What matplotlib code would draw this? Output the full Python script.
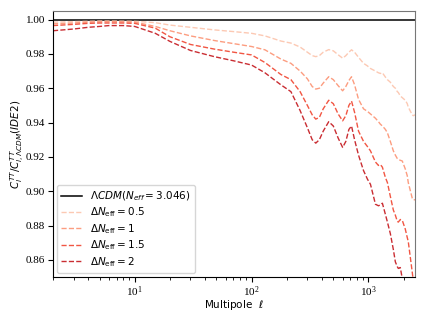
import numpy as np
import matplotlib
matplotlib.use('Agg')
import matplotlib.pyplot as plt

ell = [2, 3, 4, 5, 6, 8, 10, 15, 20, 30, 48, 70, 100, 130, 178, 217, 260, 300,
       330, 354, 380, 410, 457, 500, 550, 601, 640, 680, 716, 760, 822, 907,
       980, 1040, 1147, 1217, 1265, 1315, 1395, 1452, 1538, 1632, 1698, 1765,
       1800, 1872, 1946, 2063, 2146, 2190, 2366, 2415, 2500]

r05 = [0.9985, 0.9988, 0.9990, 0.9992, 0.9992, 0.9991, 0.9990, 0.9982, 0.9968,
       0.9955, 0.9940, 0.9930, 0.9920, 0.9905, 0.9875, 0.9863, 0.9840, 0.9810,
       0.9790, 0.9784, 0.9790, 0.9810, 0.9825, 0.9818, 0.9795, 0.9775, 0.9790,
       0.9810, 0.9824, 0.9810, 0.9780, 0.9745, 0.9730, 0.9715, 0.9700, 0.9690,
       0.9686, 0.9690, 0.9665, 0.9650, 0.9635, 0.9610, 0.9600, 0.9580, 0.9575,
       0.9555, 0.9545, 0.9530, 0.9510, 0.9490, 0.9445, 0.9440, 0.9445]

r1 = [0.9975, 0.9980, 0.9985, 0.9987, 0.9988, 0.9987, 0.9985, 0.9960, 0.9935,
      0.9905, 0.9878, 0.9860, 0.9843, 0.9824, 0.9770, 0.9745, 0.9700, 0.9655,
      0.9610, 0.9595, 0.9600, 0.9630, 0.9667, 0.9650, 0.9615, 0.9585, 0.9610,
      0.9645, 0.9667, 0.9620, 0.9535, 0.9480, 0.9465, 0.9450, 0.9425, 0.9405,
      0.9390, 0.9380, 0.9360, 0.9340, 0.9290, 0.9235, 0.9210, 0.9190, 0.9185,
      0.9180, 0.9176, 0.9130, 0.9090, 0.9050, 0.8960, 0.8950, 0.8950]

r15 = [0.9965, 0.9972, 0.9978, 0.9980, 0.9980, 0.9980, 0.9978, 0.9950, 0.9900,
       0.9855, 0.9828, 0.9810, 0.9794, 0.9750, 0.9680, 0.9650, 0.9580, 0.9500,
       0.9445, 0.9420, 0.9430, 0.9480, 0.9530, 0.9510, 0.9450, 0.9410, 0.9440,
       0.9500, 0.9525, 0.9460, 0.9350, 0.9290, 0.9260, 0.9235, 0.9170, 0.9150,
       0.9155, 0.9140, 0.9080, 0.9050, 0.8970, 0.8890, 0.8860, 0.8824, 0.8820,
       0.8835, 0.8830, 0.8780, 0.8730, 0.8706, 0.8530, 0.8480, 0.8450]

r2 = [0.9935, 0.9945, 0.9955, 0.9960, 0.9965, 0.9965, 0.9960, 0.9920, 0.9873,
      0.9820, 0.9784, 0.9760, 0.9735, 0.9690, 0.9620, 0.9580, 0.9470, 0.9370,
      0.9300, 0.9280, 0.9300, 0.9350, 0.9405, 0.9380, 0.9310, 0.9255, 0.9290,
      0.9360, 0.9380, 0.9300, 0.9210, 0.9120, 0.9070, 0.9040, 0.8924, 0.8915,
      0.8920, 0.8930, 0.8865, 0.8820, 0.8753, 0.8660, 0.8588, 0.8560, 0.8550,
      0.8555, 0.8490, 0.8450, 0.8400, 0.8380, 0.8320, 0.8300, 0.8280]

dneff = ['0.5', '1', '1.5', '2']
curves = [r05, r1, r15, r2]
colors = ['#fcc3ab', '#fc9272', '#f0442f', '#c4161c']

fig = plt.figure(figsize=(4.26, 3.2), dpi=100)
ax = fig.add_axes([53/426, 43/320, 362/426, 266/320])

ax.axhline(1.0, color='k', lw=1.1, label=r'$\Lambda CDM(N_{eff}=3.046)$')
for d, y, c in zip(dneff, curves, colors):
    ax.plot(ell, y, ls='--', lw=1.0, color=c, alpha=0.9,
            label=r'$\Delta N_{\rm eff}=%s$' % d)

ax.set_xscale('log')
ax.set_xlim(2, 2500)
ax.set_ylim(0.85, 1.005)
ax.set_yticks(np.arange(0.86, 1.001, 0.02))
ax.tick_params(labelsize=8, labelfontfamily='Liberation Serif', pad=2)
ax.set_xlabel(r'Multipole  $\ell$', fontsize=7.5, labelpad=-1)
ax.set_ylabel(r'$C_l^{TT}/C_{l,\Lambda CDM}^{TT}(IDE2)$', fontsize=7.5, labelpad=-1)
for s in ['top', 'right']:
    ax.spines[s].set_color('#777777')
ax.legend(loc='lower left', fontsize=7.5, labelspacing=0.25, handlelength=2.0,
          borderaxespad=0.4)

fig.savefig('out.png', dpi=100)
